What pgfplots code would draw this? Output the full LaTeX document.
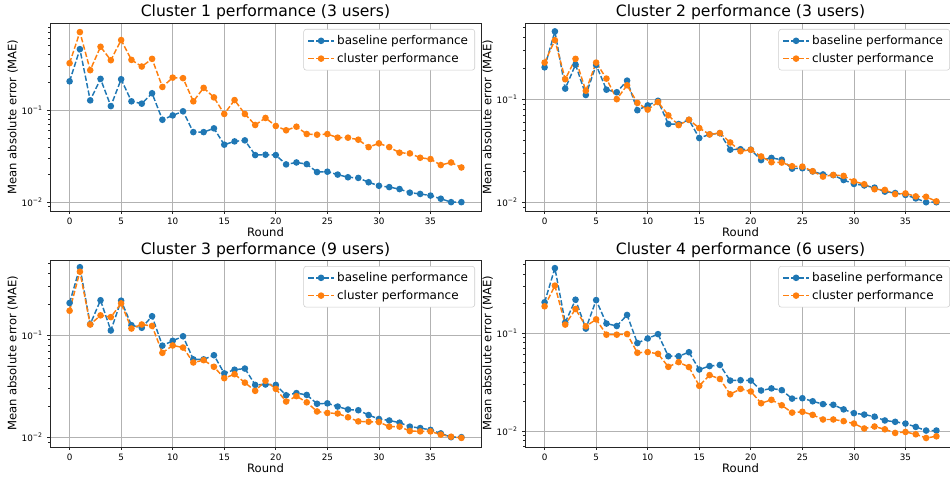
\documentclass[border=0pt]{standalone}
\usepackage{pgfplots}
\pgfplotsset{compat=1.18}
\usepackage{pgfplotstable}
\usepackage{fontspec}
\setmainfont{DejaVu Sans}
\definecolor{mblue}{HTML}{1F77B4}
\definecolor{morange}{HTML}{FF7F0E}
\pgfplotstableread{
x base c1 c2 c3 c4
0 0.206 0.324 0.229 0.173 0.1875
1 0.460 0.704 0.378 0.416 0.305
2 0.128 0.272 0.158 0.127 0.122
3 0.219 0.488 0.249 0.156 0.176
4 0.111 0.349 0.122 0.150 0.117
5 0.217 0.577 0.229 0.204 0.138
6 0.125 0.352 0.160 0.116 0.0962
7 0.118 0.298 0.101 0.127 0.0962
8 0.153 0.361 0.138 0.123 0.0977
9 0.079 0.179 0.0929 0.0672 0.0629
10 0.088 0.226 0.080 0.0793 0.0639
11 0.0975 0.223 0.0949 0.0757 0.0614
12 0.058 0.125 0.0704 0.0541 0.0452
13 0.058 0.175 0.0566 0.057 0.0505
14 0.0637 0.138 0.0638 0.0491 0.0449
15 0.0424 0.0912 0.053 0.038 0.0289
16 0.046 0.129 0.046 0.0416 0.0372
17 0.0472 0.0912 0.0474 0.0344 0.034
18 0.0327 0.0693 0.0384 0.0286 0.0237
19 0.033 0.0826 0.0316 0.0358 0.0269
20 0.0327 0.0676 0.0326 0.0299 0.0253
21 0.0259 0.0607 0.0281 0.0225 0.0192
22 0.0272 0.0664 0.0247 0.0254 0.0208
23 0.0261 0.0553 0.0245 0.0221 0.0183
24 0.0214 0.0544 0.0226 0.0180 0.0154
25 0.0216 0.0553 0.0224 0.0174 0.0157
26 0.0201 0.0505 0.0202 0.0172 0.0146
27 0.0188 0.0505 0.0179 0.0158 0.0131
28 0.0185 0.048 0.0186 0.0144 0.0131
29 0.0166 0.0399 0.0182 0.0143 0.0126
30 0.0152 0.0438 0.0161 0.0142 0.0119
31 0.0147 0.0399 0.0151 0.0128 0.0106
32 0.0140 0.0347 0.0135 0.0128 0.0111
33 0.0128 0.0341 0.0133 0.0116 0.0104
34 0.0124 0.0306 0.0121 0.0115 0.00955
35 0.0119 0.0296 0.0123 0.0115 0.00977
36 0.0110 0.0255 0.0115 0.0107 0.00925
37 0.0101 0.0272 0.0114 0.0102 0.00848
38 0.0101 0.0240 0.0103 0.00994 0.00882
}\data
\pgfplotsset{
  mypanel/.style={
    scale only axis, width=323.25pt,
    xmin=-1.9, xmax=39.9,
    xtick={0,5,...,35},
    ytick={0.01,0.1},
    yticklabels={10\textsuperscript{−2},10\textsuperscript{−1}},
    minor ytick={0.006,0.007,0.008,0.009,0.02,0.03,0.04,0.05,0.06,0.07,0.08,0.09,0.2,0.3,0.4,0.5,0.6,0.7,0.8,0.9},
    tick align=outside, tick pos=left,
    major tick length=2pt, minor tick length=1.2pt,
    xmajorgrids, ymajorgrids,
    major grid style={color=black!30, line width=0.6pt},
    axis line style={line width=0.6pt, black!85},
    every tick/.style={black!85, line width=0.5pt},
    /pgf/number format/assume math mode=true,
    ticklabel style={font=\fontsize{6.6}{8}\selectfont},
    xlabel=Round, ylabel={Mean absolute error (MAE)},
    xlabel style={at={(axis description cs:0.5,-0.112)}, anchor=center, font=\fontsize{8.7}{10}\selectfont},
    ylabel style={at={(axis description cs:-0.0866,0.5)}, anchor=center, font=\fontsize{8.7}{10}\selectfont},
    every axis title shift=0pt,
    title style={at={(axis description cs:0.5,1.055)}, anchor=center, font=\fontsize{11.7}{13}\selectfont},
    legend style={font=\fontsize{9}{11}\selectfont, draw=black!20, rounded corners=2pt, fill=white,
      at={(1,1)}, anchor=north east, xshift=-4.5pt, yshift=-4.5pt, inner xsep=3pt, inner ysep=2.5pt, row sep=1pt},
    legend image code/.code={\draw[mark repeat=2,mark phase=2,##1] plot coordinates {(0pt,0pt) (9.5pt,0pt) (19pt,0pt)};},
    legend cell align=left,
  },
  mybase/.style={mblue, line width=1.1pt, dash pattern=on 4pt off 1.7pt, mark=*, mark size=1.9pt, mark options={solid}},
  myclus/.style={morange, line width=1.1pt, dash pattern=on 4pt off 1.7pt, mark=*, mark size=1.9pt, mark options={solid}},
}
\begin{document}
\begin{tikzpicture}
\useasboundingbox (0,0) rectangle (712.5pt,359.25pt);
\clip (0,0) rectangle (712.5pt,359.25pt);
\begin{semilogyaxis}[mypanel, height=141pt, at={(37.5pt,201pt)}, anchor=south west,
  ymin=0.0081, ymax=0.883, title={Cluster 1 performance (3 users)}]
\addplot[mybase] table[x=x,y=base]{\data};
\addlegendentry{baseline performance}
\addplot[myclus] table[x=x,y=c1]{\data};
\addlegendentry{cluster performance}
\end{semilogyaxis}
\begin{semilogyaxis}[mypanel, height=141pt, at={(393.75pt,201pt)}, anchor=south west,
  ymin=0.0083, ymax=0.555, title={Cluster 2 performance (3 users)}]
\addplot[mybase] table[x=x,y=base]{\data};
\addlegendentry{baseline performance}
\addplot[myclus] table[x=x,y=c2]{\data};
\addlegendentry{cluster performance}
\end{semilogyaxis}
\begin{semilogyaxis}[mypanel, height=140.25pt, at={(37.5pt,24pt)}, anchor=south west,
  ymin=0.0081, ymax=0.541, title={Cluster 3 performance (9 users)}]
\addplot[mybase] table[x=x,y=base]{\data};
\addlegendentry{baseline performance}
\addplot[myclus] table[x=x,y=c3]{\data};
\addlegendentry{cluster performance}
\end{semilogyaxis}
\begin{semilogyaxis}[mypanel, height=140.25pt, at={(393.75pt,24pt)}, anchor=south west,
  ymin=0.00686, ymax=0.557, title={Cluster 4 performance (6 users)}]
\addplot[mybase] table[x=x,y=base]{\data};
\addlegendentry{baseline performance}
\addplot[myclus] table[x=x,y=c4]{\data};
\addlegendentry{cluster performance}
\end{semilogyaxis}
\end{tikzpicture}
\end{document}
